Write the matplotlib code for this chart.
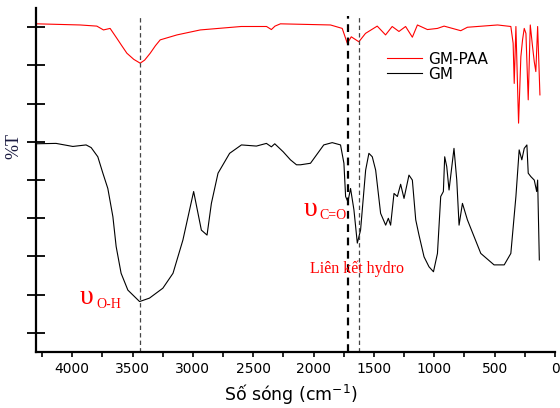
import numpy as np
import matplotlib
matplotlib.use('Agg')
import matplotlib.pyplot as plt
from matplotlib.ticker import MultipleLocator, NullFormatter

# GM-PAA spectrum (wavenumber cm-1, %T in arbitrary offset units)
gm_paa_wn = [4294, 3935, 3796, 3741, 3686, 3630, 3590, 3547, 3490, 3437, 3400, 3354,
             3310, 3271, 3132, 2939, 2600, 2390, 2350, 2320, 2275, 1860, 1763, 1721,
             1688, 1625, 1570, 1473, 1404, 1349, 1293, 1238, 1182, 1140, 1057, 974, 919,
             781, 726, 476, 366, 347, 338, 324, 302, 283, 269, 255, 241, 222, 205, 186,
             172, 159, 144, 125]
gm_paa_t = [8.59, 8.56, 8.53, 8.43, 8.47, 8.21, 8.02, 7.82, 7.66, 7.56, 7.64, 7.82,
            8.02, 8.17, 8.30, 8.43, 8.52, 8.52, 8.44, 8.53, 8.59, 8.56, 8.47, 8.08,
            8.25, 8.12, 8.34, 8.53, 8.30, 8.52, 8.39, 8.52, 8.24, 8.56, 8.44, 8.47, 8.53,
            8.41, 8.50, 8.56, 8.52, 8.08, 7.03, 8.52, 5.99, 7.73, 8.17, 8.47, 8.34, 6.60,
            8.56, 7.99, 7.60, 7.34, 8.52, 6.73]

# GM spectrum
gm_wn = [4300, 4134, 3995, 3885, 3843, 3788, 3746, 3705, 3663, 3636, 3595, 3539, 3442,
         3360, 3249, 3165, 3083, 2994, 2930, 2883, 2847, 2792, 2696, 2598, 2474, 2391,
         2350, 2322, 2252, 2192, 2142, 2109, 2026, 1916, 1846, 1777, 1749, 1735, 1716,
         1694, 1666, 1638, 1611, 1569, 1542, 1514, 1486, 1445, 1403, 1381, 1362, 1334,
         1306, 1279, 1251, 1210, 1182, 1154, 1127, 1085, 1044, 1007, 974, 947, 925, 914,
         897, 878, 837, 814, 795, 767, 726, 615, 505, 421, 366, 324, 297, 275, 255, 233,
         222, 200, 172, 152, 144, 130]
gm_t = [5.45, 5.46, 5.38, 5.42, 5.35, 5.11, 4.68, 4.28, 3.54, 2.76, 2.06, 1.62, 1.32,
        1.41, 1.67, 2.06, 2.93, 4.20, 3.19, 3.06, 3.89, 4.68, 5.20, 5.42, 5.39, 5.46,
        5.37, 5.45, 5.24, 5.03, 4.90, 4.90, 4.94, 5.42, 5.48, 5.42, 4.94, 4.07, 3.93,
        4.28, 3.72, 2.85, 3.19, 4.76, 5.20, 5.11, 4.76, 3.63, 3.32, 3.50, 3.32, 4.15,
        4.07, 4.39, 4.02, 4.63, 4.50, 3.46, 3.06, 2.49, 2.23, 2.10, 2.58, 4.07, 4.20, 5.11,
        4.85, 4.24, 5.33, 4.50, 3.32, 3.89, 3.46, 2.58, 2.28, 2.28, 2.58, 4.07, 5.29, 5.03,
        5.33, 5.42, 4.68, 4.59, 4.50, 4.20, 4.50, 2.41]

oh_band = 3440
co_band = 1719
hbond_band = 1628
xticks = [4000, 3500, 3000, 2500, 2000, 1500, 1000, 500, 0]

red = '#ff0000'
serif = 'Liberation Serif'

fig = plt.figure(figsize=(5.6, 4.08), dpi=100)
ax = fig.add_axes([0.0643, 0.1373, 0.9268, 0.8427])

ax.plot(gm_paa_wn, gm_paa_t, color=red, lw=0.8, label='GM-PAA')
ax.plot(gm_wn, gm_t, color='black', lw=0.8, label='GM')

top = 8.8 / 9
ax.axvline(oh_band, ymax=top, color='#444444', lw=0.9, ls=(0, (3.5, 2.5)))
ax.axvline(co_band, ymax=top, color='black', lw=1.6, ls=(0, (3.5, 2.5)))
ax.axvline(hbond_band, ymax=top, color='#444444', lw=0.9, ls=(0, (3.5, 2.5)))

ax.set_xlim(4300, 0)
ax.set_ylim(0, 9)
ax.set_xticks(xticks)
ax.xaxis.set_minor_locator(MultipleLocator(250))
ax.set_yticks(np.arange(0.5, 9, 1.0))
ax.yaxis.set_major_formatter(NullFormatter())

for side in ['top', 'right']:
    ax.spines[side].set_visible(False)
for side in ['left', 'bottom']:
    ax.spines[side].set_linewidth(1.6)

ax.tick_params(axis='y', direction='inout', length=13, width=1.3)
ax.tick_params(axis='x', which='major', direction='out', length=3.5, width=1.2,
               labelsize=10, pad=4)
ax.tick_params(axis='x', which='minor', direction='out', length=3.5, width=1.2)
for lbl in ax.get_xticklabels():
    lbl.set_family('DejaVu Sans')

ax.set_xlabel('Số sóng (cm$^{-1}$)', fontsize=12.5, family='DejaVu Sans')
ax.xaxis.set_label_coords(0.49, -0.09)
ax.set_ylabel('%T', fontsize=13, family=serif, color='#1a1a40', rotation=90)
ax.yaxis.set_label_coords(-0.026, 0.6)

# band labels: upsilon + subscript
ax.text(3935, 1.43, 'υ', color=red, fontsize=20, family=serif, va='center', ha='left')
ax.text(3800, 1.24, 'O-H', color=red, fontsize=10, family=serif, va='center', ha='left')
ax.text(2084, 3.74, 'υ', color=red, fontsize=20, family=serif, va='center', ha='left')
ax.text(1950, 3.58, 'C=O', color=red, fontsize=10, family=serif, va='center', ha='left')
ax.text(2034, 2.19, 'Liên kết hydro', color=red, fontsize=11.5, family=serif,
        va='center', ha='left')

ax.legend(loc='upper left', bbox_to_anchor=(0.655, 0.905), frameon=False,
          handlelength=2.3, handletextpad=0.4, labelspacing=0.0, borderpad=0.2,
          prop={'family': 'DejaVu Sans', 'size': 11})

fig.savefig('out.png', dpi=100)
